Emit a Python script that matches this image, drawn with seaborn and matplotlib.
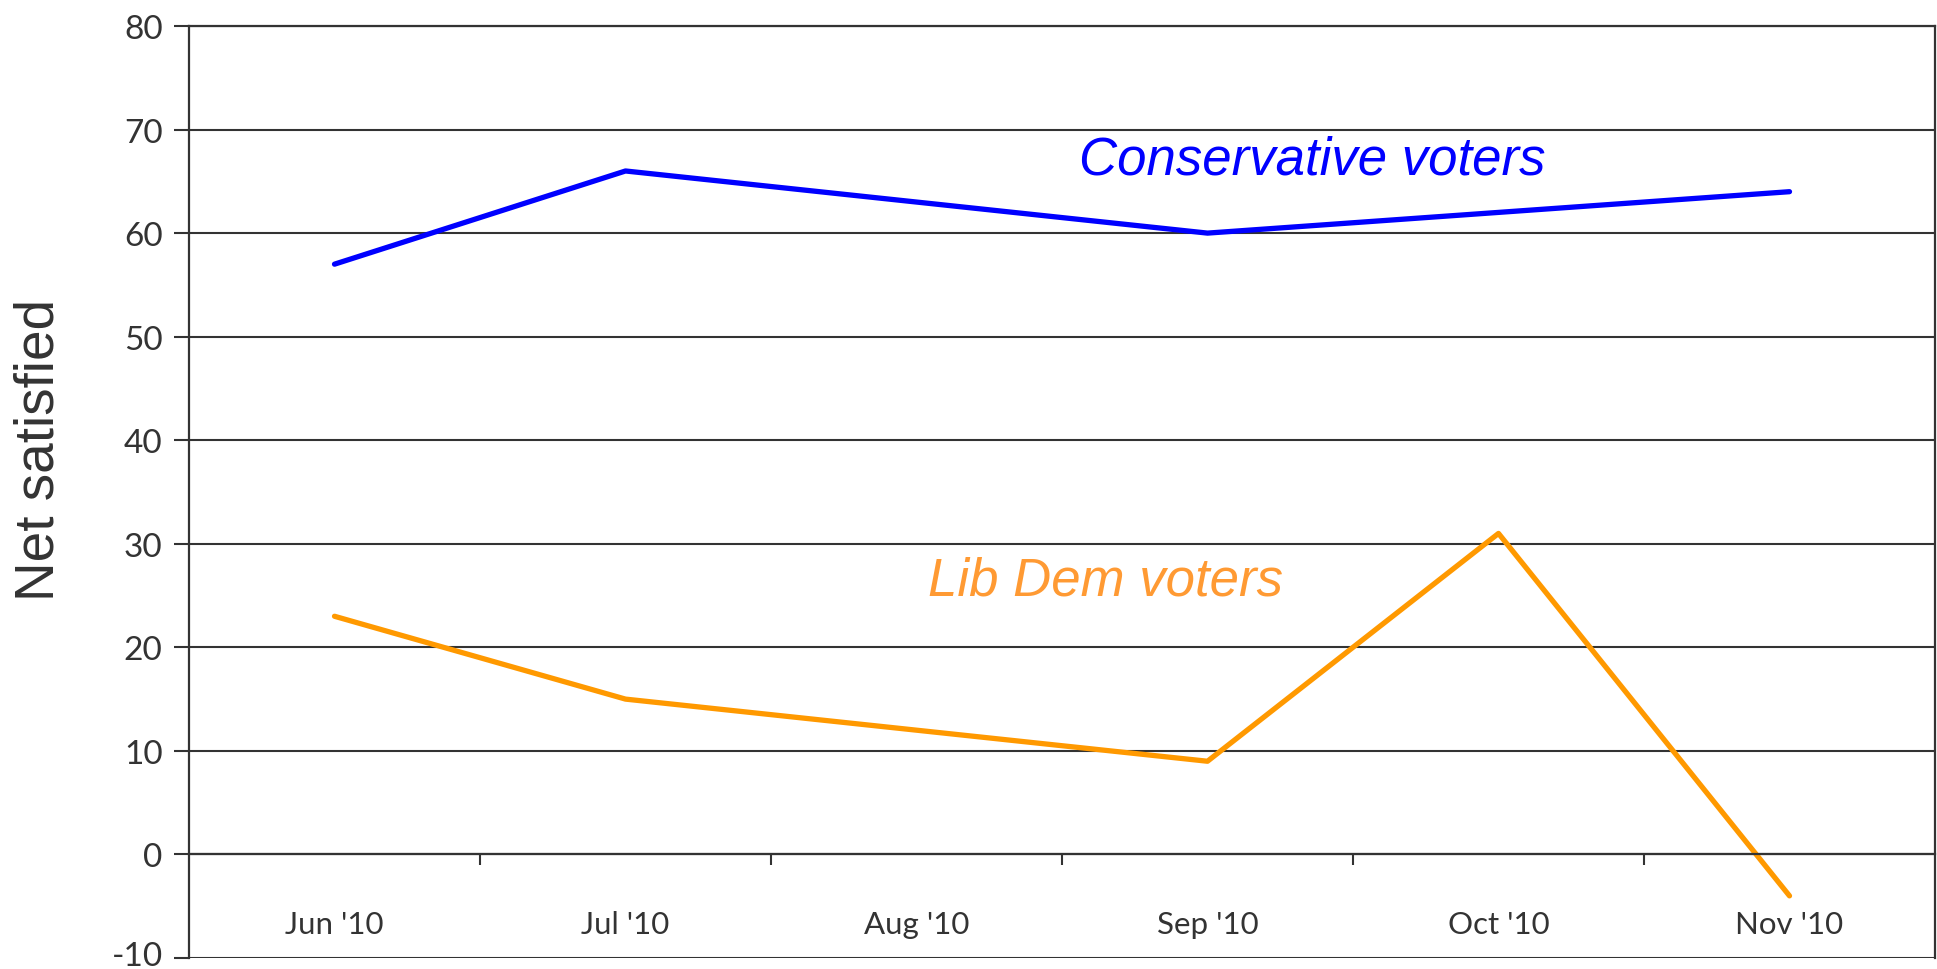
import numpy as np
import pandas as pd
import matplotlib
matplotlib.use("Agg")
import matplotlib.pyplot as plt
import matplotlib.transforms as mtransforms
import seaborn as sns
from matplotlib.ticker import FixedLocator

months = ["Jun '10", "Jul '10", "Aug '10", "Sep '10", "Oct '10", "Nov '10"]
conservative = [57, 66, np.nan, 60, np.nan, 64]
lib_dem = [23, 15, np.nan, 9, 31, -4]
y_ticks = [-10, 0, 10, 20, 30, 40, 50, 60, 70, 80]

sns.set_theme(style="white")
plt.rcParams['font.family'] = ['Liberation Sans', 'DejaVu Sans']

fig = plt.figure(figsize=(19.37, 9.70), dpi=100)
ax = fig.add_axes([189/1937, 11/970, (1935-189)/1937, (959-27)/970])

pos = np.arange(len(months))
df = pd.DataFrame({"pos": pos, "Conservative": conservative, "Lib Dem": lib_dem})
df_con = df.dropna(subset=["Conservative"])
df_lib = df.dropna(subset=["Lib Dem"])

sns.lineplot(data=df_con, x="pos", y="Conservative", ax=ax, color="#0000ff", lw=3.8)
sns.lineplot(data=df_lib, x="pos", y="Lib Dem", ax=ax, color="#ff9900", lw=3.8)

ax.set_xlim(-0.5, len(months) - 0.5)
ax.set_ylim(-10, 80)

gray = "#333333"
ax.set_yticks(y_ticks)
ax.set_yticklabels([str(v) for v in y_ticks], fontfamily="Lato", fontsize=24, color=gray)
ax.yaxis.grid(True, color=gray, lw=1.5)
ax.set_axisbelow(True)
ax.tick_params(axis="y", which="major", direction="out", length=11, width=1.5, color=gray, left=True, pad=8)

# keep the lowest tick label fully inside the canvas
low = ax.get_yticklabels()[0]
low.set_transform(low.get_transform() + mtransforms.ScaledTranslation(0, 5/100, fig.dpi_scale_trans))

ax.spines['bottom'].set_position(('data', 0))
for s in ax.spines.values():
    s.set_color(gray)
    s.set_linewidth(1.6)

ax.set_xticks(pos)
ax.set_xticklabels(months, fontfamily="Lato", fontsize=22.5, color=gray)
ax.xaxis.set_minor_locator(FixedLocator(pos[:-1] + 0.5))
ax.tick_params(axis="x", which="major", length=0, pad=40, bottom=True)
ax.tick_params(axis="x", which="minor", direction="out", length=8, width=1.5, color=gray, bottom=True)

ax.set_xlabel("")
ax.set_ylabel("Net satisfied", fontsize=39.5, color=gray)
ax.yaxis.set_label_coords(-0.071, 0.546)

ax.text(3.36, 67.1, "Conservative voters", color="#0000ff", fontsize=38, style="italic",
        ha="center", va="center")
ax.text(2.65, 26.5, "Lib Dem voters", color="#ff9a33", fontsize=38, style="italic",
        ha="center", va="center")

fig.savefig("out.png", dpi=100)
